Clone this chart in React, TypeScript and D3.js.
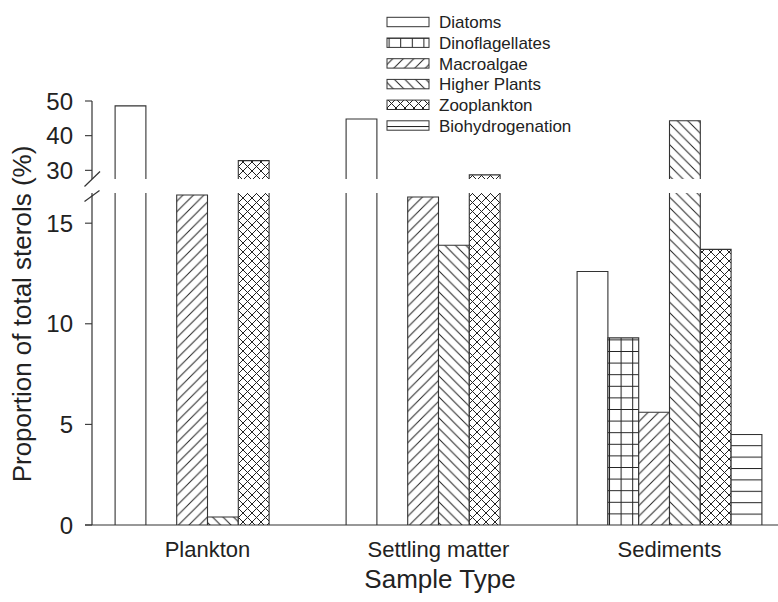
import React from 'react';
import * as d3 from 'd3';

// Sample types (x categories) and sterol sources (series)
const sampleTypes = ['Plankton', 'Settling matter', 'Sediments'];
const sources = ['Diatoms', 'Dinoflagellates', 'Macroalgae', 'Higher Plants', 'Zooplankton', 'Biohydrogenation'];

// Proportion of total sterols (%) per sample type
const diatoms = [48.6, 44.8, 12.6];
const dinoflagellates = [0, 0, 9.3];
const macroalgae = [16.4, 16.3, 5.6];
const higherPlants = [0.4, 13.9, 44.3];
const zooplankton = [32.8, 28.7, 13.7];
const biohydrogenation = [0, 0, 4.5];

// Broken y axis: lower and upper segments
const lowerTicks = [0, 5, 10, 15];
const upperTicks = [30, 40, 50];
const lowerDomain = [0, 16.5];
const upperDomain = [27.5, 50];

const seriesValues = [diatoms, dinoflagellates, macroalgae, higherPlants, zooplankton, biohydrogenation];
const patternIds = ['p-diatoms', 'p-dino', 'p-macro', 'p-higher', 'p-zoo', 'p-bio'];

const W = 778;
const H = 602;
const axisX = 92;
const baseY = 525;
const lowerTopY = 193;
const upperBottomY = 179;
const upperTopY = 101;
const INK = '#222';
const FONT = '"Liberation Sans", Arial, Helvetica, sans-serif';

function Patterns() {
  const s1 = 10.5; // single hatch spacing
  const s2 = 9; // cross hatch spacing
  const g = 11.6; // grid spacing
  const fwd = (s: number) => `M0,${s} L${s},0 M${-s / 4},${s / 4} L${s / 4},${-s / 4} M${(3 * s) / 4},${(5 * s) / 4} L${(5 * s) / 4},${(3 * s) / 4}`;
  const back = (s: number) => `M0,0 L${s},${s} M${-s / 4},${(3 * s) / 4} L${s / 4},${(5 * s) / 4} M${(3 * s) / 4},${-s / 4} L${(5 * s) / 4},${s / 4}`;
  return (
    <defs>
      <pattern id="p-diatoms" patternUnits="userSpaceOnUse" width={10} height={10}>
        <rect width={10} height={10} fill="#fff" />
      </pattern>
      <pattern id="p-dino" patternUnits="userSpaceOnUse" width={g} height={g} x={609} y={baseY}>
        <rect width={g} height={g} fill="#fff" />
        <path d={`M0,0.5 H${g} M0.5,0 V${g}`} stroke={INK} strokeWidth={1} />
      </pattern>
      <pattern id="p-macro" patternUnits="userSpaceOnUse" width={s1} height={s1}>
        <rect width={s1} height={s1} fill="#fff" />
        <path d={fwd(s1)} stroke={INK} strokeWidth={1} />
      </pattern>
      <pattern id="p-higher" patternUnits="userSpaceOnUse" width={s1} height={s1}>
        <rect width={s1} height={s1} fill="#fff" />
        <path d={back(s1)} stroke={INK} strokeWidth={1} />
      </pattern>
      <pattern id="p-zoo" patternUnits="userSpaceOnUse" width={s2} height={s2}>
        <rect width={s2} height={s2} fill="#fff" />
        <path d={fwd(s2) + ' ' + back(s2)} stroke={INK} strokeWidth={1} />
      </pattern>
      <pattern id="p-bio" patternUnits="userSpaceOnUse" width={10} height={11.4} y={baseY}>
        <rect width={10} height={11.4} fill="#fff" />
        <path d="M0,0.5 H10" stroke={INK} strokeWidth={1} />
      </pattern>
    </defs>
  );
}

export default function App() {
  const x = d3.scaleBand<string>().domain(sampleTypes).range([axisX, 785]).paddingInner(0.2).paddingOuter(0.1);
  const xs = d3.scaleBand<string>().domain(sources).range([0, x.bandwidth()]);
  const yLow = d3.scaleLinear().domain(lowerDomain).range([baseY, lowerTopY]);
  const yUp = d3.scaleLinear().domain(upperDomain).range([upperBottomY, upperTopY]);
  const w = xs.bandwidth();

  const bars: React.ReactNode[] = [];
  sampleTypes.forEach((st, i) => {
    sources.forEach((src, j) => {
      const v = seriesValues[j][i];
      if (!(v > 0)) return;
      const bx = (x(st) as number) + (xs(src) as number);
      const fill = `url(#${patternIds[j]})`;
      const key = `${i}-${j}`;
      if (v <= lowerDomain[1]) {
        const top = yLow(v);
        bars.push(
          <g key={key}>
            <rect x={bx} y={top} width={w} height={baseY - top} fill={fill} />
            <path d={`M${bx},${baseY} V${top} H${bx + w} V${baseY}`} fill="none" stroke="#333" strokeWidth={1.1} />
          </g>
        );
      } else {
        const top = yUp(v);
        bars.push(
          <g key={key}>
            <rect x={bx} y={lowerTopY} width={w} height={baseY - lowerTopY} fill={fill} />
            <path d={`M${bx},${baseY} V${lowerTopY} M${bx + w},${lowerTopY} V${baseY}`} fill="none" stroke="#333" strokeWidth={1.1} />
            <rect x={bx} y={top} width={w} height={upperBottomY - top} fill={fill} />
            <path d={`M${bx},${upperBottomY} V${top} H${bx + w} V${upperBottomY}`} fill="none" stroke="#333" strokeWidth={1.1} />
          </g>
        );
      }
    });
  });

  const legendX = 387;
  const legendY = d3.scalePoint<string>().domain(sources).range([22, 125.5]);

  return (
    <div style={{ position: 'absolute', left: 0, top: 0 }}>
      <svg width={W} height={H} viewBox={`0 0 ${W} ${H}`} style={{ display: 'block', background: '#fff' }}>
        <Patterns />
        <rect width={W} height={H} fill="#fff" />

        {bars}

        {/* baseline */}
        <path d={`M85,${baseY} H785`} stroke="#333" strokeWidth={1.2} fill="none" />

        {/* lower y axis */}
        <path d={`M${axisX},${baseY} V${lowerTopY}`} stroke="#333" strokeWidth={1.2} fill="none" />
        {lowerTicks.map((t) => (
          <g key={`lt${t}`}>
            <path d={`M85,${yLow(t)} H${axisX}`} stroke="#333" strokeWidth={1.1} />
            <text x={73} y={yLow(t)} dy="0.36em" textAnchor="end" fontFamily={FONT} fontSize={24} fill={INK}>
              {t}
            </text>
          </g>
        ))}

        {/* upper y axis */}
        <path d={`M${axisX},${upperBottomY} V${upperTopY}`} stroke="#333" strokeWidth={1.2} fill="none" />
        {upperTicks.map((t) => (
          <g key={`ut${t}`}>
            <path d={`M85,${yUp(t)} H${axisX}`} stroke="#333" strokeWidth={1.1} />
            <text x={73} y={yUp(t)} dy="0.36em" textAnchor="end" fontFamily={FONT} fontSize={24} fill={INK}>
              {t}
            </text>
          </g>
        ))}

        {/* axis break marks */}
        <path d={`M${axisX - 7.5},${upperBottomY + 7.5} L${axisX + 8},${upperBottomY - 7.5}`} stroke="#333" strokeWidth={1.2} />
        <path d={`M${axisX - 7.5},${lowerTopY + 8.5} L${axisX + 7.5},${lowerTopY - 2.5}`} stroke="#333" strokeWidth={1.2} />

        {/* category labels */}
        {sampleTypes.map((st) => (
          <text key={st} x={(x(st) as number) + x.bandwidth() / 2} y={557} textAnchor="middle" fontFamily={FONT} fontSize={22} fill={INK}>
            {st}
          </text>
        ))}

        {/* axis titles */}
        <text x={440} y={588} textAnchor="middle" fontFamily={FONT} fontSize={26} fill={INK}>
          Sample Type
        </text>
        <text transform="translate(31,314) rotate(-90)" textAnchor="middle" fontFamily={FONT} fontSize={26} fill={INK}>
          Proportion of total sterols (%)
        </text>

        {/* legend */}
        {sources.map((src, j) => {
          const cy = legendY(src) as number;
          return (
            <g key={`lg${src}`}>
              <rect x={legendX} y={cy - 4.7} width={42} height={9.4} fill={`url(#${patternIds[j]})`} stroke="#333" strokeWidth={1} />
              <text x={439} y={cy} dy="0.36em" fontFamily={FONT} fontSize={17} fill={INK}>
                {src}
              </text>
            </g>
          );
        })}
      </svg>
    </div>
  );
}
